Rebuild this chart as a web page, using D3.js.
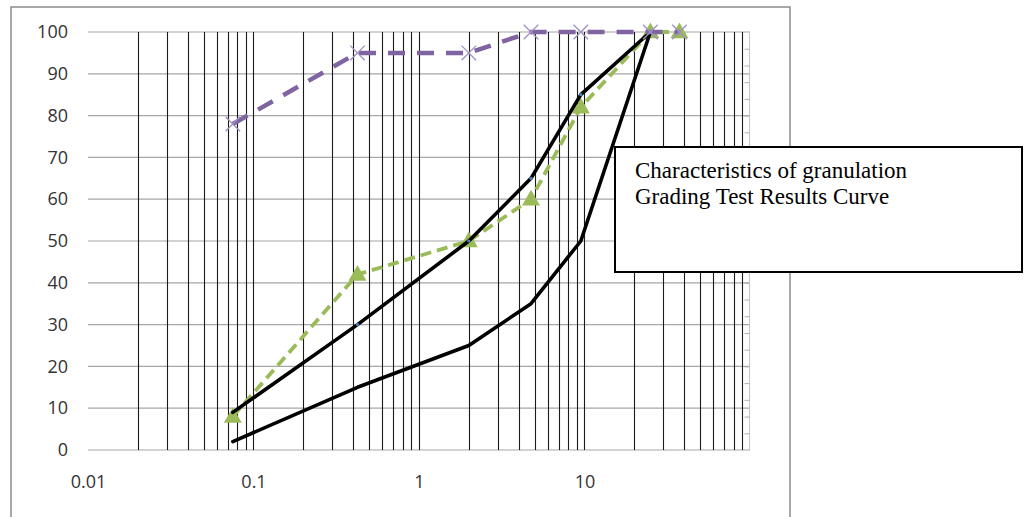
<!DOCTYPE html>
<html>
<head>
<meta charset="utf-8">
<script src="https://cdn.jsdelivr.net/npm/d3@7"></script>
<style>
	body { margin:0; background:#ffffff; }
	svg { display:block; }
</style>
</head>
<body>
<div id="chart"></div>
<script>
(function(){
	// -----------------------------------------------------------------
	// Data (sieve size in mm, percent passing)
	var sieveSizes = [0.075, 0.425, 2, 4.75, 9.5, 25, 37.5];
	var upperLimit = [9, 30, 50, 65, 85, 100];
	var lowerLimit = [2, 15, 25, 35, 50, 100];
	var testResult = [8, 42, 50, 60, 82, 100, 100];
	var otherResult = [78, 95, 95, 100, 100, 100, 100];

	var xTickLabels = [0.01, 0.1, 1, 10];
	var yTickValues = [0, 10, 20, 30, 40, 50, 60, 70, 80, 90, 100];
	var boxLines = ['Characteristics of granulation', 'Grading Test Results Curve'];

	// -----------------------------------------------------------------
	var width = 1029;
	var height = 517;
	var plot = { left: 88, right: 750, top: 32, bottom: 450 };

	var svg = d3.select('#chart')
		.append('svg')
		.attr('width',width)
		.attr('height',height);

	// chart outer frame
	svg.append('rect')
		.attr('x',11)
		.attr('y',7)
		.attr('width',779)
		.attr('height',530)
		.attr('fill','#ffffff')
		.attr('stroke','#8c8c8c')
		.attr('stroke-width',1.5);

	var x = d3.scaleLog()
		.domain([0.01,100])
		.range([plot.left,plot.right]);

	var y = d3.scaleLinear()
		.domain([0,100])
		.range([plot.bottom,plot.top]);

	function pairs(values){
		var res = [];
		for(var i=0,e=values.length;i<e;++i){
			res.push({ x: sieveSizes[i], y: values[i] });
		};
		return res;
	};

	// Horizontal grid
	svg.append('g')
		.attr('class','hgrid')
		.selectAll('line')
		.data(yTickValues)
		.enter()
		.append('line')
		.attr('x1',plot.left)
		.attr('x2',plot.right)
		.attr('y1',function(d){ return y(d); })
		.attr('y2',function(d){ return y(d); })
		.attr('stroke','#a6a6a6')
		.attr('stroke-width',1.2);

	// Vertical grid (log minor + major lines)
	var vTicks = x.ticks().filter(function(d){
		return d > 0.011 && d < 99;
	});
	svg.append('g')
		.attr('class','vgrid')
		.selectAll('line')
		.data(vTicks)
		.enter()
		.append('line')
		.attr('x1',function(d){ return Math.round(x(d))+0.5; })
		.attr('x2',function(d){ return Math.round(x(d))+0.5; })
		.attr('y1',plot.top)
		.attr('y2',plot.bottom)
		.attr('stroke','#1a1a1a')
		.attr('stroke-width',1.1);

	// right border of plot area with small ticks
	svg.append('line')
		.attr('x1',plot.right-0.5)
		.attr('x2',plot.right-0.5)
		.attr('y1',plot.top)
		.attr('y2',plot.bottom)
		.attr('stroke','#c8c8c8')
		.attr('stroke-width',1.2);

	var rightAxis = d3.axisLeft(y)
		.tickValues(d3.range(4,100,4))
		.tickSize(5)
		.tickFormat('');
	var gRight = svg.append('g')
		.attr('transform','translate('+(plot.right-0.5)+',0)')
		.call(rightAxis);
	gRight.select('.domain').remove();
	gRight.selectAll('line').attr('stroke','#b0b0b0');

	// Y axis labels
	var yAxis = d3.axisLeft(y)
		.tickValues(yTickValues)
		.tickSize(0)
		.tickPadding(20);
	var gY = svg.append('g')
		.attr('transform','translate('+plot.left+',0)')
		.call(yAxis);
	gY.select('.domain').remove();
	gY.selectAll('text')
		.attr('font-family','"Open Sans", sans-serif')
		.attr('font-size',18)
		.attr('fill','#333333');

	// X axis labels
	var xAxis = d3.axisBottom(x)
		.tickValues(xTickLabels)
		.tickSize(0)
		.tickPadding(25)
		.tickFormat(function(d){ return String(d); });
	var gX = svg.append('g')
		.attr('transform','translate(0,'+plot.bottom+')')
		.call(xAxis);
	gX.select('.domain').remove();
	gX.selectAll('text')
		.attr('font-family','"Open Sans", sans-serif')
		.attr('font-size',18)
		.attr('fill','#333333');

	var line = d3.line()
		.x(function(d){ return x(d.x); })
		.y(function(d){ return y(d.y); });

	// Test result curve (green, dashed, triangles)
	var greenData = pairs(testResult);
	svg.append('path')
		.datum(greenData)
		.attr('d',line)
		.attr('fill','none')
		.attr('stroke','#9bbb59')
		.attr('stroke-width',3.8)
		.attr('stroke-dasharray','11,6');

	var triangle = d3.symbol().type(d3.symbolTriangle).size(140);
	svg.append('g')
		.selectAll('path')
		.data(greenData)
		.enter()
		.append('path')
		.attr('d',triangle)
		.attr('transform',function(d){ return 'translate('+x(d.x)+','+(y(d.y)+1)+')'; })
		.attr('fill','#9bbb59');

	// Envelope limits (black)
	[upperLimit, lowerLimit].forEach(function(values){
		svg.append('path')
			.datum(pairs(values))
			.attr('d',line)
			.attr('fill','none')
			.attr('stroke','#000000')
			.attr('stroke-width',3.6)
			.attr('stroke-linejoin','round')
			.attr('stroke-linecap','round');
	});

	svg.append('g')
		.selectAll('circle')
		.data(pairs(upperLimit).slice(1,5))
		.enter()
		.append('circle')
		.attr('cx',function(d){ return x(d.x); })
		.attr('cy',function(d){ return y(d.y); })
		.attr('r',1.6)
		.attr('fill','#4f81bd');

	// Other curve (purple, dashed, crosses)
	var purpleData = pairs(otherResult);
	svg.append('path')
		.datum(purpleData)
		.attr('d',line)
		.attr('fill','none')
		.attr('stroke','#8064a2')
		.attr('stroke-width',4.5)
		.attr('stroke-dasharray','17,12');

	var cross = d3.symbol().type(d3.symbolX).size(140);
	svg.append('g')
		.selectAll('path')
		.data(purpleData)
		.enter()
		.append('path')
		.attr('d',cross)
		.attr('transform',function(d){ return 'translate('+x(d.x)+','+y(d.y)+')'; })
		.attr('fill','none')
		.attr('stroke','#a090c4')
		.attr('stroke-width',1.3);

	// Text box
	var box = svg.append('g')
		.attr('transform','translate(615,147)');
	box.append('rect')
		.attr('x',0)
		.attr('y',0)
		.attr('width',407)
		.attr('height',125)
		.attr('fill','#ffffff')
		.attr('stroke','#000000')
		.attr('stroke-width',2);
	box.selectAll('text')
		.data(boxLines)
		.enter()
		.append('text')
		.attr('x',20)
		.attr('y',function(d,i){ return 31 + i*26; })
		.attr('font-family','"Liberation Serif", "Times New Roman", serif')
		.attr('font-size',23)
		.attr('fill','#000000')
		.text(function(d){ return d; });
})();
</script>
</body>
</html>
